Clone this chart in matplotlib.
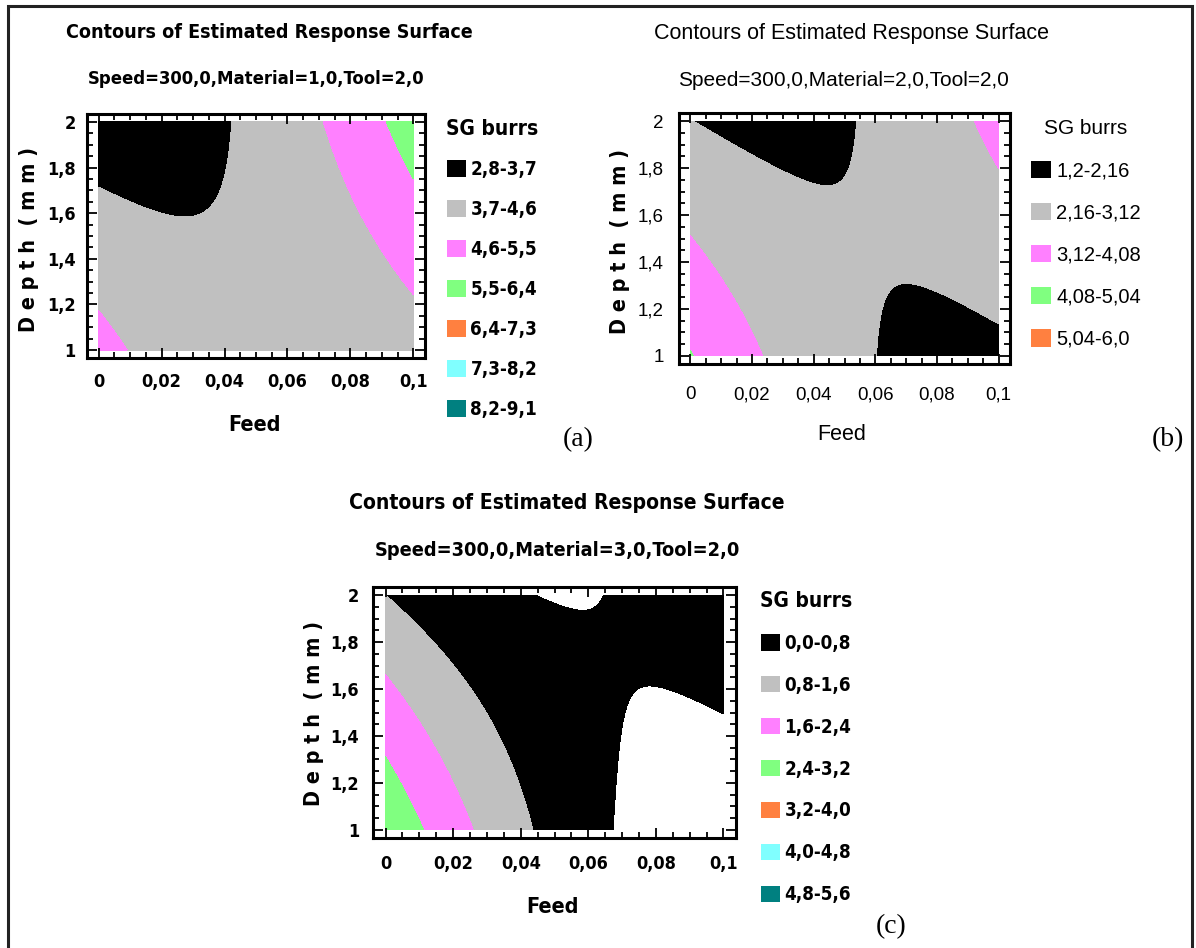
import numpy as np
import matplotlib
matplotlib.use("Agg")
import matplotlib.pyplot as plt
from matplotlib import font_manager
from matplotlib.patches import Patch, Rectangle
from matplotlib.ticker import AutoMinorLocator

# narrow sans for the Statgraphics look
_names = {(f.name, f.stretch) for f in font_manager.fontManager.ttflist}
COND = dict(family="DejaVu Sans", stretch="condensed")
if ("DejaVu Sans", "condensed") not in _names:
    COND = dict(family="Liberation Sans", stretch="normal")
PLAIN = dict(family="Liberation Sans", stretch="normal")
SERIF = dict(family="Liberation Serif")

W, H = 1196, 948

feed_ticks = [0, 0.02, 0.04, 0.06, 0.08, 0.1]
feed_labels = ["0", "0,02", "0,04", "0,06", "0,08", "0,1"]
depth_ticks = [1, 1.2, 1.4, 1.6, 1.8, 2]
depth_labels = ["1", "1,2", "1,4", "1,6", "1,8", "2"]

band_colors = ["#000000", "#C0C0C0", "#FF80FF", "#80FF80", "#FF8040", "#80FFFF", "#008080"]

# contour points (feed, depth, SG burrs level)
# (a) Material=1
levels_a = [2.8, 3.7, 4.6, 5.5, 6.4, 7.3, 8.2, 9.1]
labels_a = ["2,8-3,7", "3,7-4,6", "4,6-5,5", "5,5-6,4", "6,4-7,3", "7,3-8,2", "8,2-9,1"]
feed_a = [0, 0.0054, 0.0151, 0.0236, 0.0284, 0.0344, 0.0386, 0.0405, 0.0417, 0.0423,
          0, 0.0045, 0.009,
          0.0713, 0.078, 0.084, 0.09, 0.096, 0.1,
          0.0912, 0.096, 0.1]
depth_a = [1.711, 1.68, 1.62, 1.591, 1.59, 1.628, 1.715, 1.80, 1.92, 2.0,
           1.175, 1.09, 1.0,
           2.0, 1.774, 1.584, 1.423, 1.307, 1.25,
           2.0, 1.861, 1.745]
sg_a = [3.7] * 10 + [4.6] * 3 + [4.6] * 6 + [5.5] * 3

# (b) Material=2
levels_b = [1.2, 2.16, 3.12, 4.08, 5.04, 6.0]
labels_b = ["1,2-2,16", "2,16-3,12", "3,12-4,08", "4,08-5,04", "5,04-6,0"]
feed_b = [0, 0.0195, 0.0318, 0.0393, 0.0442, 0.048, 0.051, 0.0529, 0.0541,
          0.0601, 0.061, 0.0628, 0.0678, 0.0727, 0.0814, 0.0913, 0.1,
          0, 0.0071, 0.0133, 0.0195, 0.0234,
          0, 0.0009,
          0.0923, 0.096, 0.1]
depth_b = [2.0, 1.888, 1.789, 1.733, 1.719, 1.726, 1.775, 1.874, 2.0,
           1.0, 1.171, 1.27, 1.309, 1.305, 1.249, 1.185, 1.143,
           1.508, 1.382, 1.256, 1.115, 1.0,
           1.03, 1.0,
           2.0, 1.9, 1.789]
sg_b = [2.16] * 9 + [2.16] * 8 + [3.12] * 5 + [4.08] * 2 + [3.12] * 3

# (c) Material=3
levels_c = [0.0, 0.8, 1.6, 2.4, 3.2, 4.0, 4.8, 5.6]
labels_c = ["0,0-0,8", "0,8-1,6", "1,6-2,4", "2,4-3,2", "3,2-4,0", "4,0-4,8", "4,8-5,6"]
feed_c = [0, 0.0047, 0.011,
          0, 0.007, 0.014, 0.0209, 0.0262,
          0, 0.0093, 0.0186, 0.0279, 0.0349, 0.0407, 0.0436,
          0.0674, 0.068, 0.0688, 0.0703, 0.0733, 0.0767, 0.0837, 0.093, 0.1,
          0.0436, 0.0512, 0.0558, 0.0605, 0.0628]
depth_c = [1.304, 1.183, 1.0,
           1.649, 1.532, 1.389, 1.218, 1.0,
           2.0, 1.882, 1.732, 1.532, 1.347, 1.133, 1.0,
           1.0, 1.247, 1.447, 1.561, 1.625, 1.629, 1.589, 1.525, 1.489,
           2.0, 1.953, 1.932, 1.946, 2.0]
sg_c = [2.4] * 3 + [1.6] * 5 + [0.8] * 7 + [0.0] * 9 + [0.0] * 5


def response_surface(feed, depth, sg, degree=2):
    # second-order response surface in feed and depth, least squares
    u = np.asarray(feed) / 0.1
    v = np.asarray(depth) - 1.0
    terms = [(i, j) for i in range(degree + 1) for j in range(degree + 1 - i)]
    A = np.column_stack([u ** i * v ** j for i, j in terms])
    coef = np.linalg.lstsq(A, np.asarray(sg), rcond=None)[0]
    F, D = np.meshgrid(np.linspace(0, 0.1, 301), np.linspace(1, 2, 301))
    U, V = F / 0.1, D - 1.0
    Z = sum(c * U ** i * V ** j for c, (i, j) in zip(coef, terms))
    return F, D, Z


def px(x, y):
    return x / W, 1 - y / H


fig = plt.figure(figsize=(W / 100, H / 100), dpi=100)
fig.patches.append(Rectangle(px(8, 960), 1184 / W, 954 / H, transform=fig.transFigure,
                             fill=False, edgecolor="#222222", linewidth=2.2))

panels = [
    dict(rect=(87, 358, 338, 244), data=(feed_a, depth_a, sg_a), levels=levels_a, labels=labels_a,
         sub="Speed=300,0,Material=1,0,Tool=2,0", t1=(269, 33), t2=(256, 79), tsize=(14.1, 13.2),
         feed=(254, 425), depth=(29, 239), leg=(446, 119), lsp=1.12, tag="(a)", tagxy=(578, 440),
         bold=True, ticksize=13, xpad=11, ypad=8),
    dict(rect=(679, 364, 331, 251), data=(feed_b, depth_b, sg_b), levels=levels_b, labels=labels_b,
         sub="Speed=300,0,Material=2,0,Tool=2,0", t1=(851, 33), t2=(843, 80), tsize=(15.5, 15),
         feed=(842, 435), depth=(620, 242), leg=(1031, 119), lsp=1.12, tag="(b)", tagxy=(1168, 440),
         bold=False, ticksize=13.5, xpad=16, ypad=11),
    dict(rect=(373, 838, 363, 251), data=(feed_c, depth_c, sg_c), levels=levels_c, labels=labels_c,
         sub="Speed=300,0,Material=3,0,Tool=2,0", t1=(567, 503), t2=(557, 550), tsize=(15.1, 14.3),
         feed=(553, 907), depth=(314, 713), leg=(760, 591), lsp=1.22, tag="(c)", tagxy=(891, 927),
         bold=True, ticksize=13, xpad=12, ypad=10),
]

for p in panels:
    x0, yb, w, h = p["rect"]
    ax = fig.add_axes([*px(x0, yb), w / W, h / H])
    F, D, Z = response_surface(*p["data"])
    n = len(p["labels"])
    ax.contourf(F, D, Z, levels=p["levels"], colors=band_colors[:n])
    ax.set_xlim(-0.0037, 0.1037)
    ax.set_ylim(0.965, 2.035)

    bold = p["bold"]
    wt = "bold" if bold else "normal"
    font = COND if bold else PLAIN
    ax.set_xticks(feed_ticks, feed_labels)
    ax.set_yticks(depth_ticks, depth_labels)
    ax.xaxis.set_minor_locator(AutoMinorLocator(4))
    ax.yaxis.set_minor_locator(AutoMinorLocator(4))
    ax.tick_params(which="both", direction="in", top=True, right=True, width=1.3)
    ax.tick_params(which="major", length=7)
    ax.tick_params(axis="x", which="major", pad=p["xpad"])
    ax.tick_params(axis="y", which="major", pad=p["ypad"])
    ax.tick_params(which="minor", length=4)
    for lab in ax.get_xticklabels() + ax.get_yticklabels():
        lab.set_fontproperties(dict(font, size=p["ticksize"], weight=wt))
    for s in ax.spines.values():
        s.set_linewidth(2.2)

    s1, s2 = p["tsize"]
    fig.text(*px(*p["t1"]), "Contours of Estimated Response Surface", ha="center", va="center",
             fontproperties=dict(font, size=s1, weight=wt))
    fig.text(*px(*p["t2"]), p["sub"], ha="center", va="center",
             fontproperties=dict(font, size=s2, weight=wt))
    fig.text(*px(*p["feed"]), "Feed", ha="center", va="center",
             fontproperties=dict(font, size=15.5, weight=wt))
    fig.text(*px(*p["depth"]), "D e p t h  ( m m )", ha="center", va="center", rotation=90,
             fontproperties=dict(COND, size=15.5, weight="bold"))
    fig.text(*px(*p["tagxy"]), p["tag"], ha="center", va="center",
             fontproperties=dict(SERIF, size=20))

    lsize = 13.5 if bold else 14.5
    pad_px = 10.0
    bp = pad_px / (lsize * 100 / 72)
    handles = [Patch(facecolor=c, edgecolor="none") for c in band_colors[:n]]
    lx, ly = p["leg"]
    ax.legend(handles, p["labels"], title="SG burrs", loc="upper left",
              bbox_to_anchor=px(lx - pad_px, ly - pad_px), bbox_transform=fig.transFigure,
              frameon=False, borderpad=bp, borderaxespad=0, handlelength=1.0,
              handleheight=0.95, handletextpad=0.25, labelspacing=p["lsp"],
              prop=dict(font, size=lsize, weight=wt),
              title_fontproperties=dict(font, size=15, weight=wt))

fig.savefig("out.png", dpi=100)
